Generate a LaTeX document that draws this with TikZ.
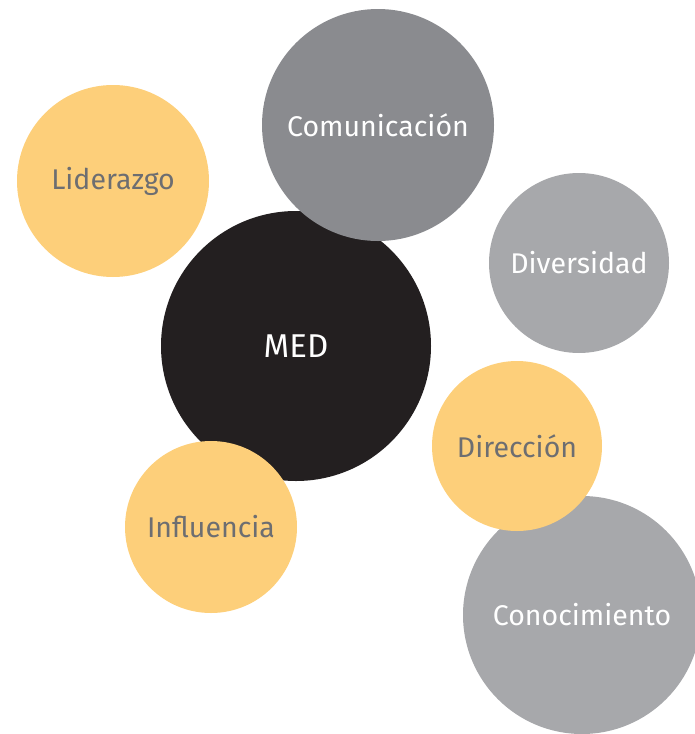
\documentclass[tikz,border=0pt]{standalone}
\usepackage{fontspec}
\setmainfont{Fira Sans}
\definecolor{yel}{HTML}{FDCF7A}
\definecolor{dgray}{HTML}{8A8B8F}
\definecolor{lgray}{HTML}{A7A8AB}
\definecolor{blk}{HTML}{231F20}
\definecolor{txtg}{HTML}{6D6E71}
\tikzset{
  bub/.style={circle, inner sep=0pt, font=\fontsize{28.5}{28.5}\selectfont},
  yb/.style={bub, fill=yel, text=txtg},
  gb/.style={bub, fill=dgray, text=white},
  lb/.style={bub, fill=lgray, text=white},
  kb/.style={bub, fill=blk, text=white, font=\fontsize{33}{33}\selectfont},
}
\begin{document}
\begin{tikzpicture}[x=1pt,y=-1pt]
\path[use as bounding box] (0,0) rectangle (695,734);
\begin{scope}
\clip (0,0) rectangle (695,734);
\node[yb, minimum size=192pt] (lid) at (113,181) {Liderazgo};
\node[kb, minimum size=270pt] (med) at (296,346) {MED};
\node[gb, minimum size=232pt] (com) at (378,125) {Comunicación};
\node[lb, minimum size=180pt] (div) at (579,263) {Diversidad};
\node[yb, minimum size=172pt] (inf) at (211,527) {Influencia};
\node[lb, minimum size=238pt] (con) at (582,615) {Conocimiento};
\node[yb, minimum size=170pt] (dir) at (517,446) {Dirección};
\end{scope}
\end{tikzpicture}
\end{document}
